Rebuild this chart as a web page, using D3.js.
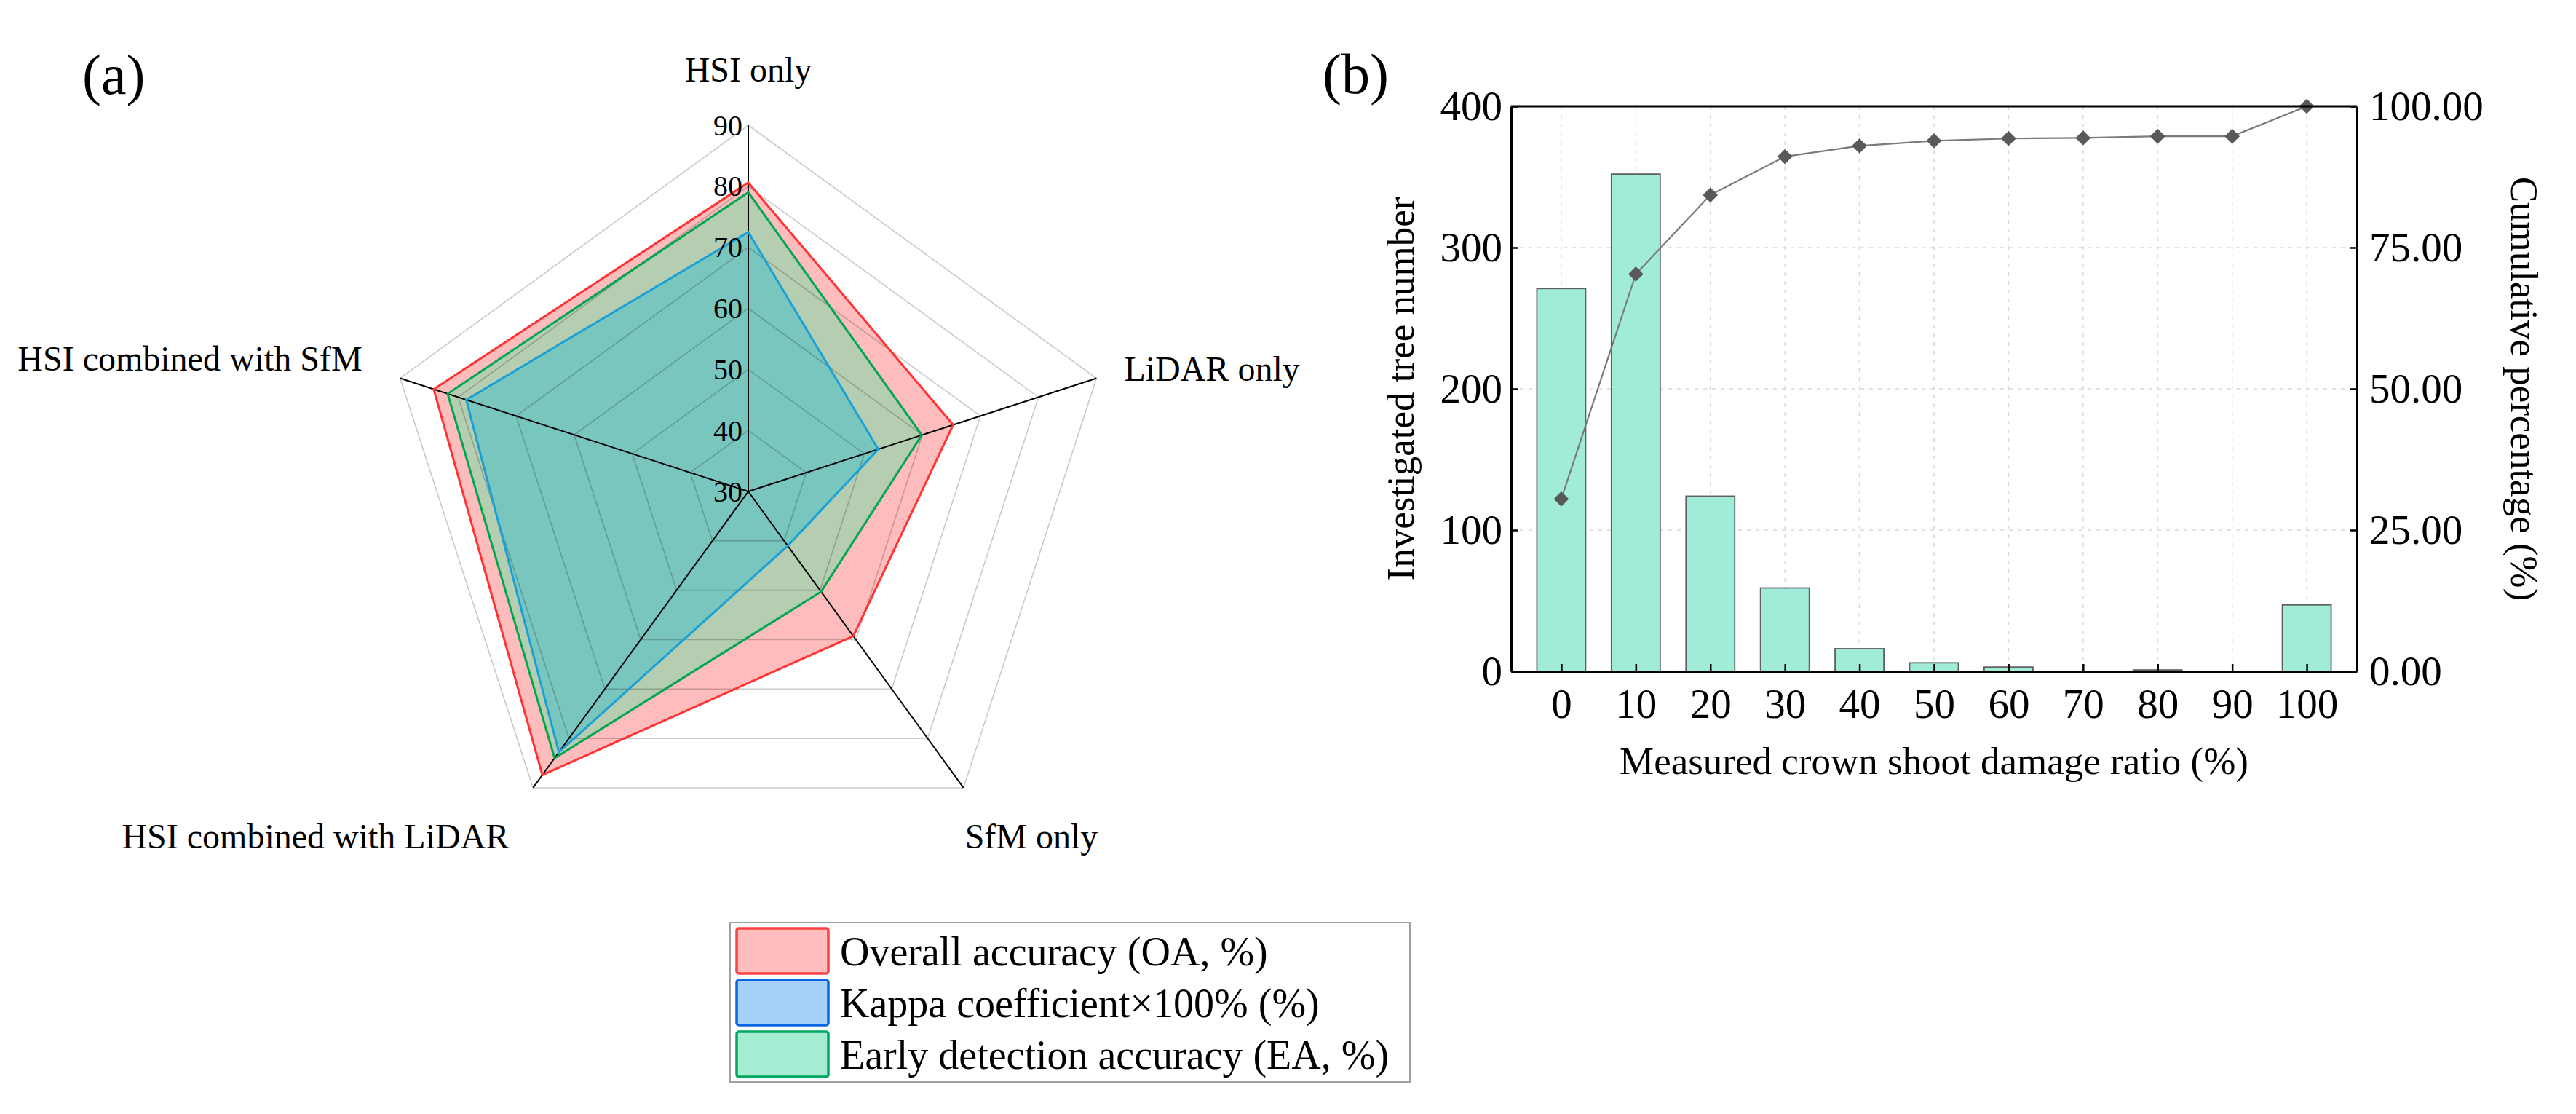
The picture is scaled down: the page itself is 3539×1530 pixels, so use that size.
<!DOCTYPE html>
<html><head><meta charset="utf-8">
<script src="https://cdn.jsdelivr.net/npm/d3@7"></script>
<style>
body{margin:0;background:#fff}
svg{display:block}
text{font-family:"Liberation Serif","Times New Roman",serif;fill:#000}
</style>
</head><body>
<svg id="chart" width="3539" height="1530"></svg>
<script>
// ---------- data: radar panel (a) ----------
const radarAxes = ["HSI only", "LiDAR only", "SfM only", "HSI combined with LiDAR", "HSI combined with SfM"];
const radarTicks = [30, 40, 50, 60, 70, 80, 90];
const oaValues = [80.6, 65.3, 59.3, 87.4, 84.2];
const kappaValues = [72.5, 52.4, 41.0, 82.8, 78.6];
const eaValues = [79.0, 59.9, 50.3, 84.0, 81.8];
const legendLabels = ["Overall accuracy (OA, %)", "Kappa coefficient\u00d7100% (%)", "Early detection accuracy (EA, %)"];

// ---------- data: bar panel (b) ----------
const damageCategories = ["0", "10", "20", "30", "40", "50", "60", "70", "80", "90", "100"];
const treeCounts = [271, 352, 124, 59, 16, 6, 3, 0, 1, 0, 47];
const cumulativePercent = [30.5, 70.3, 84.3, 91.1, 93.0, 93.9, 94.3, 94.4, 94.7, 94.7, 100];
const leftTicks = [0, 100, 200, 300, 400];
const rightTicks = [0, 25, 50, 75, 100];

const svg = d3.select("#chart");
svg.append("rect").attr("width", 3539).attr("height", 1530).attr("fill", "#fff");

// ================= Panel (a): radar =================
const cx = 1028, cy = 675, R = 503;
const rScale = d3.scaleLinear().domain([30, 90]).range([0, R]);
const nAx = radarAxes.length;
const ang = i => i * 2 * Math.PI / nAx;
const radial = d3.lineRadial()
  .angle((d, i) => ang(i))
  .radius(d => rScale(d))
  .curve(d3.curveLinearClosed);

const ga = svg.append("g").attr("transform", `translate(${cx},${cy})`);

const seriesStyles = [
  {vals: oaValues, fill: "#ffbcbc", stroke: "#ff3333"},
  {vals: eaValues, fill: "#b5cdb0", stroke: "#00a650"},
  {vals: kappaValues, fill: "#79c6bf", stroke: "#19a0d6"}
];
// fills
seriesStyles.forEach(s => {
  ga.append("path").attr("d", radial(s.vals)).attr("fill", s.fill).attr("stroke", "none");
});
// grid rings
radarTicks.filter(t => t > 30).forEach(t => {
  ga.append("path").attr("d", radial(radarAxes.map(() => t)))
    .attr("fill", "none").attr("stroke", "rgba(0,0,0,0.21)").attr("stroke-width", 1.6);
});
// spokes
radarAxes.forEach((a, i) => {
  const rr = rScale(90);
  ga.append("line").attr("x1", 0).attr("y1", 0)
    .attr("x2", rr * Math.sin(ang(i))).attr("y2", -rr * Math.cos(ang(i)))
    .attr("stroke", "#000").attr("stroke-width", 2);
});
// outlines
seriesStyles.forEach(s => {
  ga.append("path").attr("d", radial(s.vals)).attr("fill", "none")
    .attr("stroke", s.stroke).attr("stroke-width", 3).attr("stroke-linejoin", "miter");
});
// tick labels
radarTicks.forEach(t => {
  ga.append("text").attr("x", -8).attr("y", -rScale(t)).attr("dy", "0.34em")
    .attr("text-anchor", "end").attr("font-size", 40).text(t);
});
// axis labels
const labelPlace = [
  {dx: 0, dy: -60, anchor: "middle"},
  {dx: 38, dy: 3, anchor: "start"},
  {dx: 2, dy: 83, anchor: "start"},
  {dx: -33, dy: 83, anchor: "end"},
  {dx: -52, dy: -11, anchor: "end"}
];
radarAxes.forEach((a, i) => {
  const rr = rScale(90);
  const px = rr * Math.sin(ang(i)), py = -rr * Math.cos(ang(i));
  ga.append("text").attr("x", px + labelPlace[i].dx).attr("y", py + labelPlace[i].dy)
    .attr("text-anchor", labelPlace[i].anchor).attr("font-size", 48).text(a);
});

svg.append("text").attr("x", 113).attr("y", 129).attr("font-size", 78).text("(a)");

// legend
const legendStyles = [
  {fill: "#ffbdbd", stroke: "#ff4040"},
  {fill: "#a6d1f7", stroke: "#0a64e6"},
  {fill: "#a6ecd3", stroke: "#00a860"}
];
const lg = svg.append("g");
lg.append("rect").attr("x", 1003).attr("y", 1267).attr("width", 934).attr("height", 219)
  .attr("fill", "#fff").attr("stroke", "#a0a0a0").attr("stroke-width", 2);
legendLabels.forEach((lab, i) => {
  const y0 = 1275 + i * 71;
  lg.append("rect").attr("x", 1012).attr("y", y0).attr("width", 126).attr("height", 62)
    .attr("rx", 3).attr("fill", legendStyles[i].fill)
    .attr("stroke", legendStyles[i].stroke).attr("stroke-width", 3.5);
  lg.append("text").attr("x", 1154).attr("y", y0 + 31 + 20).attr("font-size", 56).text(lab);
});

// ================= Panel (b): bars + cumulative =================
const L = 2076, Rr = 3238, T = 146, B = 922;
const x = d3.scalePoint().domain(damageCategories).range([L, Rr]).padding(0.673);
const yL = d3.scaleLinear().domain([0, 400]).range([B, T]);
const yR = d3.scaleLinear().domain([0, 100]).range([B, T]);
const barW = 67;
const gb = svg.append("g");

// grid
gb.selectAll(".vg").data(damageCategories).join("line")
  .attr("x1", d => x(d)).attr("x2", d => x(d)).attr("y1", T).attr("y2", B)
  .attr("stroke", "#d9d9d9").attr("stroke-width", 1.5).attr("stroke-dasharray", "5,7");
gb.selectAll(".hg").data(leftTicks.filter(t => t > 0 && t < 400)).join("line")
  .attr("x1", L).attr("x2", Rr).attr("y1", d => yL(d)).attr("y2", d => yL(d))
  .attr("stroke", "#d9d9d9").attr("stroke-width", 1.5).attr("stroke-dasharray", "5,7");

// bars
gb.selectAll(".bar").data(treeCounts).join("rect")
  .attr("x", (d, i) => x(damageCategories[i]) - barW / 2)
  .attr("y", d => yL(d))
  .attr("width", barW)
  .attr("height", d => B - yL(d))
  .attr("fill", "#a0ecd8").attr("stroke", d => d > 0 ? "#606060" : "none").attr("stroke-width", 1.8);

// cumulative line
const line = d3.line().x((d, i) => x(damageCategories[i])).y(d => yR(d));
gb.append("path").attr("d", line(cumulativePercent)).attr("fill", "none")
  .attr("stroke", "#7a7a7a").attr("stroke-width", 2.2);
const sq = d3.symbol().type(d3.symbolSquare).size(215);
gb.selectAll(".pt").data(cumulativePercent).join("path")
  .attr("d", sq)
  .attr("transform", (d, i) => `translate(${x(damageCategories[i])},${yR(d)}) rotate(45)`)
  .attr("fill", "#595959");

// axes
const axL = gb.append("g").attr("transform", `translate(${L},0)`)
  .call(d3.axisLeft(yL).tickValues(leftTicks).tickSize(-10).tickSizeOuter(0).tickPadding(12));
const axR = gb.append("g").attr("transform", `translate(${Rr},0)`)
  .call(d3.axisRight(yR).tickValues(rightTicks).tickFormat(d3.format(".2f")).tickSize(-10).tickSizeOuter(0).tickPadding(17));
const axB = gb.append("g").attr("transform", `translate(0,${B})`)
  .call(d3.axisBottom(x).tickSize(-10).tickSizeOuter(0).tickPadding(24));
[axL, axR, axB].forEach(a => {
  a.selectAll("text").attr("font-size", 57).attr("font-family", '"Liberation Serif","Times New Roman",serif').attr("fill", "#000");
  a.selectAll(".tick line").attr("stroke", "#000").attr("stroke-width", 2.5);
  a.select(".domain").attr("stroke", "#000").attr("stroke-width", 3);
});
gb.append("line").attr("x1", L).attr("x2", Rr).attr("y1", T).attr("y2", T)
  .attr("stroke", "#000").attr("stroke-width", 3);

// axis titles
svg.append("text").attr("transform", `translate(1942,${(T + B) / 2}) rotate(-90)`)
  .attr("text-anchor", "middle").attr("font-size", 53).text("Investigated tree number");
svg.append("text").attr("transform", `translate(3450,${(T + B) / 2}) rotate(90)`)
  .attr("text-anchor", "middle").attr("font-size", 53).text("Cumulative percentage (%)");
svg.append("text").attr("x", (L + Rr) / 2).attr("y", 1063)
  .attr("text-anchor", "middle").attr("font-size", 53).text("Measured crown shoot damage ratio (%)");

svg.append("text").attr("x", 1817).attr("y", 128).attr("font-size", 78).text("(b)");
</script>
</body></html>
